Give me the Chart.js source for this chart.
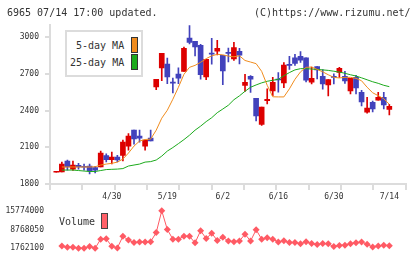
<!DOCTYPE html>
<html><head><meta charset="utf-8">
<script src="https://cdn.jsdelivr.net/npm/chart.js@4.4.0/dist/chart.umd.min.js"></script>
<style>
html,body{margin:0;padding:0;background:#fff;width:420px;height:259px;overflow:hidden;}
#wrap{position:relative;width:420px;height:259px;font-family:"DejaVu Sans Mono",monospace;color:#333;}
.t{position:absolute;white-space:pre;line-height:1;}
canvas{position:absolute;left:0;}
.box{position:absolute;box-sizing:border-box;}
</style></head><body>
<div id="wrap">
<canvas id="price" width="420" height="206" style="top:0"></canvas>
<canvas id="vol" width="420" height="59" style="top:200px"></canvas>
<div class="t" style="left:7px;top:8px;font-size:10px;">6965 07/14 17:00 updated.</div>
<div class="t" style="left:254px;top:8px;font-size:10px;">(C)https://www.rizumu.net/</div>
<div class="box" style="left:65px;top:30px;width:78px;height:47px;border:2px solid #dcdcdc;background:#fff;"></div>
<div class="t" style="left:76px;top:41px;font-size:10px;">5-day MA</div>
<div class="t" style="left:70px;top:58px;font-size:10px;">25-day MA</div>
<div class="box" style="left:131px;top:37px;width:7px;height:16px;border:1px solid #333;background:#f08c1e;"></div>
<div class="box" style="left:131px;top:54px;width:7px;height:16px;border:1px solid #333;background:#1caa1c;"></div>
<div class="t" style="left:59px;top:217px;font-size:10px;">Volume</div>
<div class="box" style="left:101px;top:213px;width:7px;height:16px;border:1px solid #444;background:#ff6068;"></div>
</div>
<script>
const categories = ['4/15','4/16','4/17','4/18','4/21','4/22','4/23','4/24','4/25','4/28',
 '4/30','5/1','5/2','5/7','5/8','5/9','5/12','5/13','5/14','5/15',
 '5/19','5/20','5/21','5/22','5/23','5/26','5/27','5/28','5/29','5/30',
 '6/2','6/3','6/4','6/5','6/6','6/9','6/10','6/11','6/12','6/13',
 '6/16','6/17','6/18','6/19','6/20','6/23','6/24','6/25','6/26','6/27',
 '6/30','7/1','7/2','7/3','7/4','7/7','7/8','7/9','7/10','7/11','7/14'];
const opens  = [1896,1898,1988,1922,1952,1945,1947,1935,1939,2033,1998,2020,2034,2110,2240,2191,2110,2175,2593,2749,
 2780,2633,2699,2721,2993,2966,2933,2676,2866,2887,2852,2873,2823,2884,2607,2680,2501,2287,2482,2561,
 2655,2626,2773,2832,2844,2832,2632,2760,2680,2611,2676,2713,2680,2561,2672,2550,2387,2468,2485,2509,2409];
const highs  = [1902,1980,1996,1988,1968,1963,1963,1945,2069,2047,2061,2035,2160,2213,2240,2240,2159,2240,2656,2868,
 2829,2666,2750,2920,3096,2966,2941,2819,2990,2974,2852,2911,2958,2909,2697,2687,2501,2428,2578,2672,
 2711,2792,2844,2860,2882,2832,2756,2760,2735,2654,2700,2754,2721,2664,2689,2566,2509,2477,2550,2550,2452];
const lows   = [1896,1898,1914,1912,1922,1914,1882,1890,1939,1980,1965,1980,1988,2077,2126,2142,2077,2153,2572,2645,
 2621,2544,2621,2721,2945,2848,2658,2654,2780,2855,2613,2798,2811,2781,2556,2548,2316,2279,2455,2523,
 2550,2588,2737,2770,2795,2634,2618,2660,2575,2520,2618,2672,2623,2536,2536,2438,2379,2389,2485,2414,2365];
const closes = [1902,1963,1939,1955,1939,1937,1906,1914,2053,1998,2020,1996,2142,2191,2168,2175,2159,2153,2656,2868,
 2676,2625,2666,2909,2958,2920,2694,2819,2862,2909,2724,2868,2915,2854,2632,2658,2357,2428,2493,2632,
 2650,2773,2770,2786,2813,2648,2664,2733,2618,2654,2672,2746,2642,2664,2585,2471,2420,2414,2509,2446,2436];
const ma5  = [null,1939,1939,1939,1939,1939,1939,1941,1955,1963,1969,1979,2004,2053,2110,2151,2164,2167,2240,2338,
 2403,2493,2591,2697,2754,2770,2795,2825,2848,2860,2856,2846,2840,2848,2810,2797,2784,2721,2607,2513,
 2512,2512,2578,2656,2717,2754,2756,2737,2717,2693,2672,2667,2672,2672,2664,2644,2591,2546,2522,2497,2452];
const ma25 = [null,1914,1914,1914,1910,1906,1902,1902,1910,1918,1920,1922,1926,1947,1955,1963,1979,1983,1996,2028,
 2069,2098,2130,2163,2199,2240,2273,2310,2342,2383,2413,2444,2489,2521,2558,2591,2610,2627,2640,2648,
 2656,2685,2711,2733,2743,2743,2740,2737,2733,2729,2722,2715,2705,2693,2683,2668,2652,2636,2623,2607,2596];
const volumes = [null,2570000,2110000,2110000,1762100,1762100,2360000,1762100,5160000,5260000,2460000,1880000,6210000,4810000,3860000,4110000,4110000,4210000,7610000,15774000,
 8770000,5160000,5160000,6210000,6210000,3760000,8310000,5370000,7370000,4670000,5860000,4460000,4210000,4460000,7020000,4460000,8660000,5160000,5720000,5160000,
 4110000,4560000,3860000,3860000,3410000,4210000,3510000,3160000,3510000,3410000,2360000,2810000,2910000,3410000,3760000,4110000,3260000,2220000,2570000,2910000,2670000];
const dateTickIdx = [10,20,30,40,50,60];
const priceTicks = [1800,2100,2400,2700,3000];
const volTicks = [1762100,8768050,15774000];

const RED='#dd0000', BLUE='#4242bc', ORANGE='#f08c1e', GREEN='#1caa1c', VCOL='#ff5a64';
const XMIN=-1.135, XMAX=62.95;
const FONT={family:'DejaVu Sans Mono', size:8};
const col = categories.map((_, i) => closes[i] >= opens[i] ? RED : BLUE);

new Chart(document.getElementById('price'), {
  type:'bar',
  data:{datasets:[
    {type:'line', data:ma5.map((v,i)=>({x:i,y:v})), borderColor:ORANGE, borderWidth:1, pointRadius:0, tension:0, order:0},
    {type:'line', data:ma25.map((v,i)=>({x:i,y:v})), borderColor:GREEN, borderWidth:1, pointRadius:0, tension:0, order:0},
    {data:categories.map((_,i)=>({x:i,y:[opens[i],closes[i]]})), backgroundColor:col, barThickness:5, minBarLength:1, grouped:false, order:1},
    {data:categories.map((_,i)=>({x:i,y:[lows[i],highs[i]]})), backgroundColor:col, barThickness:1, minBarLength:1, grouped:false, order:2}
  ]},
  options:{
    responsive:false, animation:false, events:[],
    layout:{padding:{top:25,right:14.3,left:0,bottom:0}},
    plugins:{legend:{display:false}, tooltip:{enabled:false}},
    scales:{
      x:{type:'linear', offset:false, min:XMIN, max:XMAX, position:'bottom', weight:1,
         afterBuildTicks:s=>{s.ticks=dateTickIdx.map(v=>({value:v}));},
         ticks:{autoSkip:false, maxRotation:0, padding:2, color:'#333', font:FONT, callback:v=>categories[v]},
         grid:{display:false, drawTicks:false, offset:false}, border:{display:false},
         afterFit:s=>{s.height=16;}},
      xt:{type:'linear', offset:false, min:0, max:11, position:'bottom', weight:0,
         afterBuildTicks:s=>{const t=[];for(let i=0;i<=11;i++)t.push({value:i});s.ticks=t;},
         ticks:{display:false},
         grid:{drawOnChartArea:false, drawTicks:true, tickLength:6, color:'#dcdcdc', lineWidth:2, offset:false},
         border:{display:true, color:'#dcdcdc', width:2},
         afterFit:s=>{s.height=6;}},
      y:{min:1800, max:3100, position:'left',
         afterBuildTicks:s=>{s.ticks=priceTicks.map(v=>({value:v}));},
         ticks:{padding:6, color:'#333', font:FONT, callback:v=>String(v)},
         grid:{drawOnChartArea:false, drawTicks:true, tickLength:5, color:'#dcdcdc', lineWidth:2},
         border:{display:true, color:'#dcdcdc', width:2},
         afterFit:s=>{s.width=50;}}
    }
  }
});

new Chart(document.getElementById('vol'), {
  type:'line',
  data:{datasets:[
    {data:volumes.map((v,i)=>({x:i,y:v})), borderColor:VCOL, backgroundColor:VCOL, borderWidth:1,
     pointStyle:'rectRot', pointRadius:3.5, pointBorderWidth:0, tension:0, clip:false, spanGaps:false}
  ]},
  options:{
    responsive:false, animation:false, events:[],
    layout:{padding:{top:9.3,right:14.3,left:0,bottom:10}},
    plugins:{legend:{display:false}, tooltip:{enabled:false}},
    scales:{
      x:{type:'linear', offset:false, min:XMIN, max:XMAX, display:false},
      y:{min:volTicks[0], max:volTicks[2],
         afterBuildTicks:s=>{s.ticks=volTicks.map(v=>({value:v}));},
         ticks:{padding:6, color:'#333', font:FONT, callback:v=>String(v)},
         grid:{display:false, drawTicks:false}, border:{display:false},
         afterFit:s=>{s.width=50;}}
    }
  }
});
</script>
</body></html>
